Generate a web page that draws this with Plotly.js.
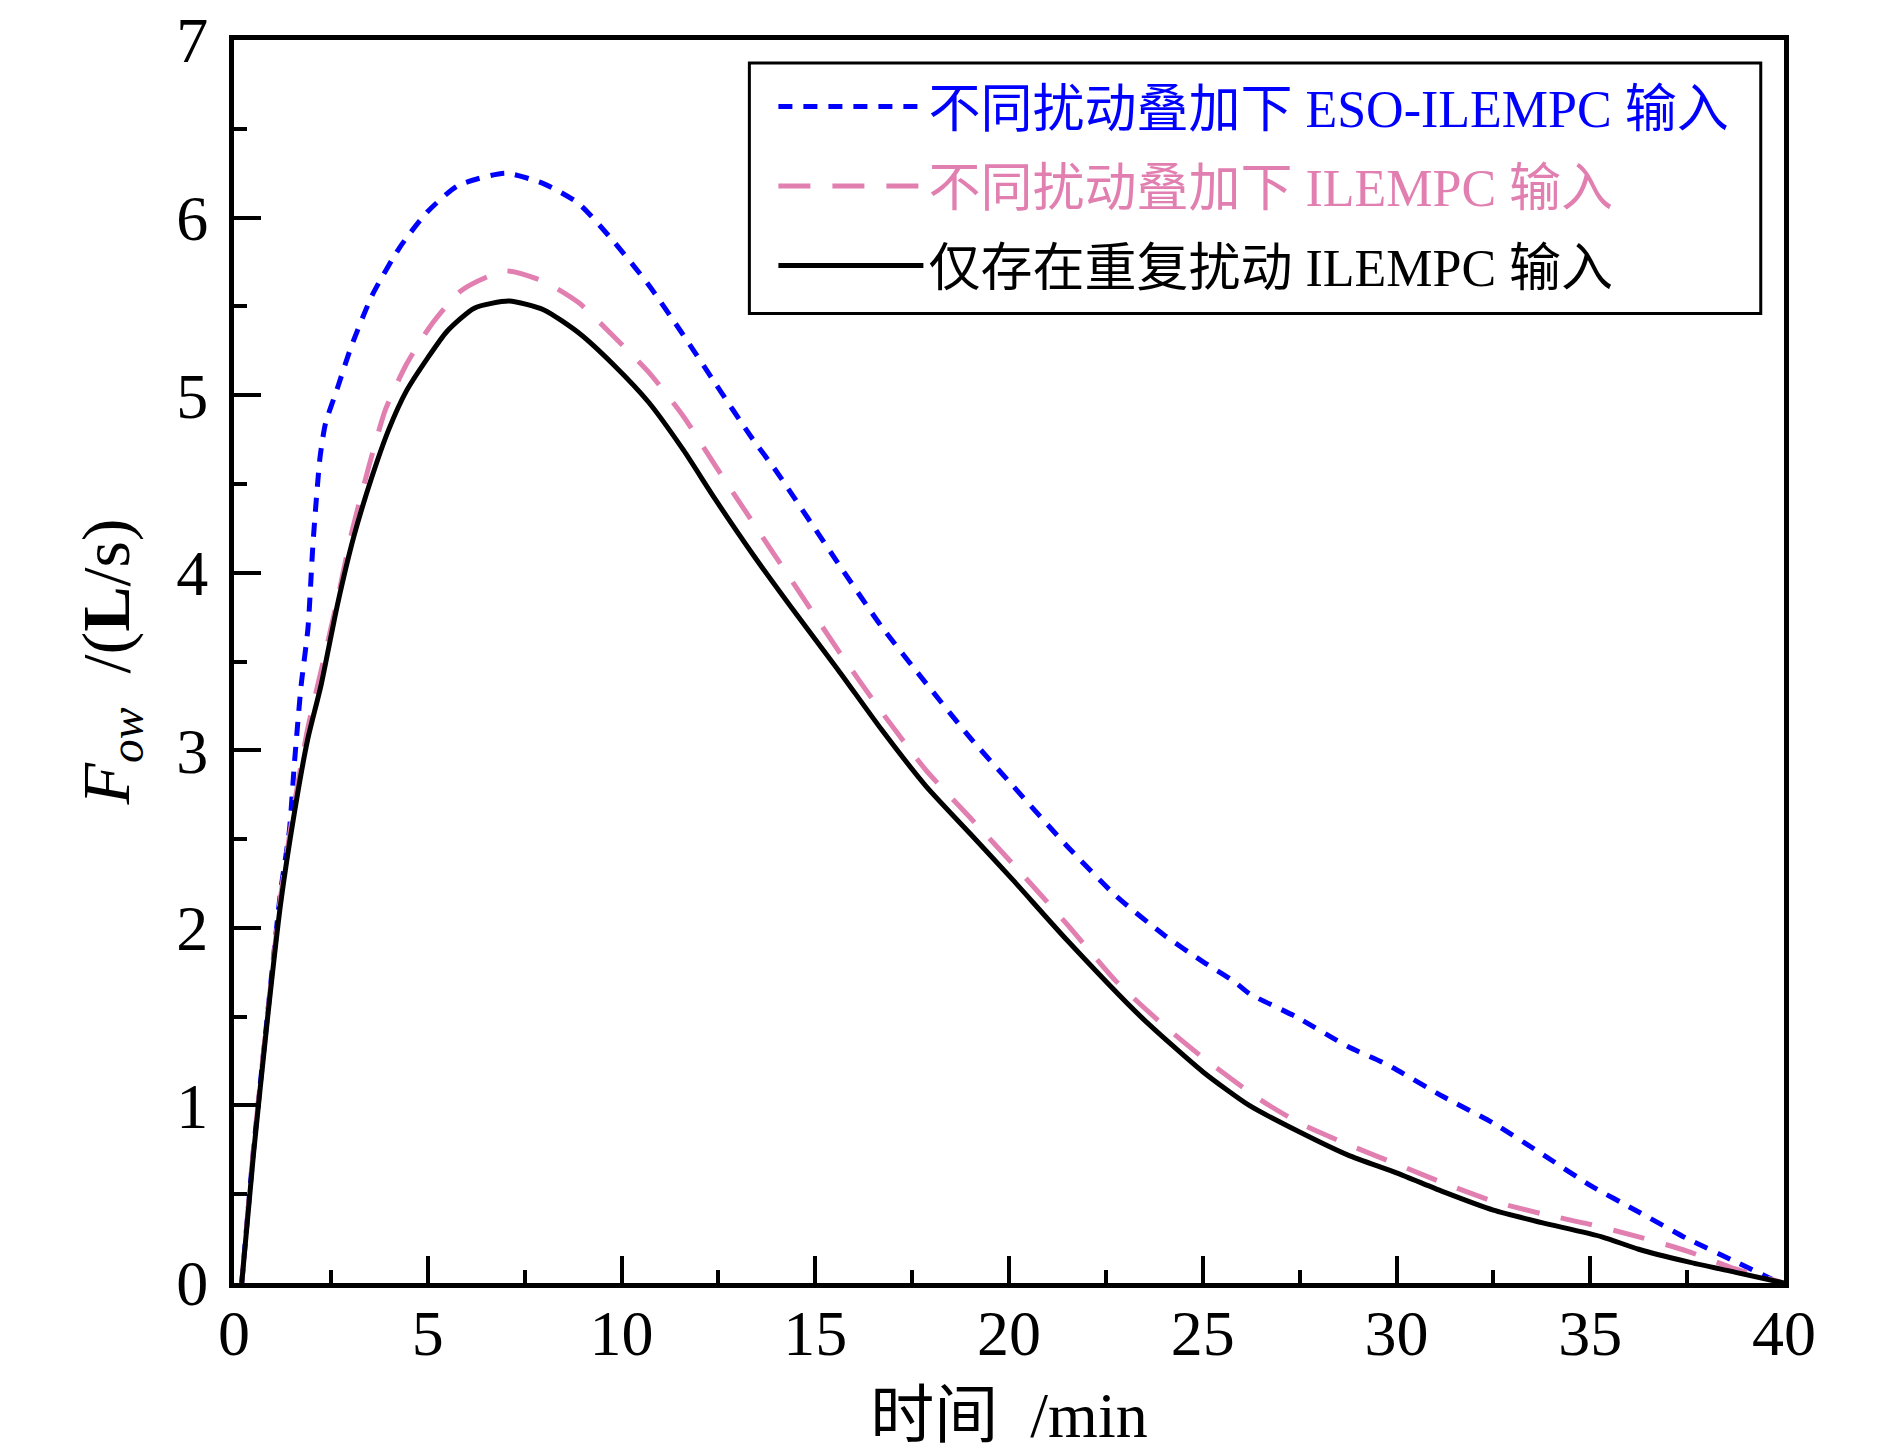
<!DOCTYPE html>
<html>
<head>
<meta charset="utf-8">
<script src="https://cdn.plot.ly/plotly-3.0.1.min.js"></script>
<style>html,body{margin:0;padding:0;background:#fff;}#chart{width:1890px;height:1452px;}</style>
</head>
<body>
<div id="chart"></div>
<script>
// ---- data ----
const seriesNames = [
  '不同扰动叠加下 ESO-ILEMPC 输入',
  '不同扰动叠加下 ILEMPC 输入',
  '仅存在重复扰动 ILEMPC 输入'
];
const seriesColors = ['#0000FF', '#E27FB1', '#000000'];

const xEso = [0.2,0.5,0.86,1.2,1.43,1.56,1.73,1.91,2.04,2.22,2.36,2.67,3.02,3.56,4.27,4.98,5.78,7.0,8.0,8.89,9.78,10.67,11.56,12.44,13.33,14.0,15.6,16.7,17.85,19.0,20.1,21.5,22.76,24.0,25.0,25.8,26.2,27.4,28.76,29.76,31.2,32.5,33.8,35.0,36.25,37.5,38.75,39.7];
const yEso = [0,0.74,1.5,2.2,2.55,2.93,3.36,3.69,4.17,4.65,4.84,5.04,5.27,5.56,5.83,6.03,6.18,6.25,6.19,6.08,5.87,5.63,5.35,5.06,4.77,4.57,4.05,3.70,3.38,3.07,2.80,2.46,2.18,1.96,1.81,1.70,1.63,1.50,1.33,1.23,1.05,0.90,0.72,0.55,0.40,0.25,0.12,0.02];

const xIlempc = [0.2,0.5,0.86,1.2,1.56,1.9,2.25,2.67,3.02,3.47,3.91,4.44,5.07,5.87,7.0,8.0,8.9,9.8,10.7,11.6,12.4,13.4,14.5,15.6,16.7,17.85,19.0,20.1,21.5,22.76,24.0,25.0,26.5,27.5,28.75,30.0,31.25,32.5,33.75,35.0,36.25,37.5,38.6,40.0];
const yIlempc = [0,0.75,1.5,2.17,2.7,3.12,3.45,3.85,4.21,4.59,4.92,5.17,5.39,5.59,5.70,5.64,5.52,5.33,5.13,4.88,4.61,4.28,3.92,3.56,3.22,2.89,2.62,2.36,2.02,1.70,1.45,1.27,1.03,0.90,0.78,0.67,0.56,0.46,0.39,0.33,0.26,0.18,0.09,0];

const xRepeat = [0.2,0.5,0.86,1.2,1.56,1.9,2.25,2.67,3.1,3.56,4.0,4.44,5.0,5.5,6.2,7.1,8.0,8.9,9.8,10.7,11.6,12.4,13.4,14.5,15.6,16.7,17.85,19.0,20.1,21.5,23.4,25.0,26.2,27.5,28.75,30.0,31.25,32.5,33.75,35.3,36.25,37.5,38.75,40.0];
const yRepeat = [0,0.72,1.48,2.13,2.65,3.06,3.37,3.82,4.21,4.54,4.81,5.02,5.21,5.36,5.49,5.53,5.48,5.35,5.17,4.96,4.69,4.42,4.10,3.77,3.45,3.12,2.80,2.53,2.27,1.93,1.50,1.19,1.00,0.85,0.72,0.62,0.51,0.41,0.34,0.26,0.19,0.12,0.06,0];

const xTicks = [0,5,10,15,20,25,30,35,40];
const yTicks = [0,1,2,3,4,5,6,7];

const serif = 'Liberation Serif, Noto Sans CJK SC, serif';

function colored(name, color) {
  return '<span style="color:' + color + '">' + name + '</span>';
}

const traces = [
  {x: xEso, y: yEso, name: colored(seriesNames[0], seriesColors[0]), legendgroup: 'a',
   mode: 'lines', line: {color: seriesColors[0], width: 5, dash: '14px,11px', shape: 'spline', smoothing: 0.6}},
  {x: xIlempc, y: yIlempc, name: colored(seriesNames[1], seriesColors[1]), legendgroup: 'b',
   mode: 'lines', line: {color: seriesColors[1], width: 5, dash: '32px,22px', shape: 'spline', smoothing: 0.6}},
  {x: xRepeat, y: yRepeat, name: colored(seriesNames[2], seriesColors[2]), legendgroup: 'c',
   mode: 'lines', line: {color: seriesColors[2], width: 5, shape: 'spline', smoothing: 0.6}}
];

const axisCommon = {
  showgrid: false, zeroline: false,
  showline: true, linecolor: '#000', linewidth: 5, mirror: true,
  ticks: 'inside', ticklen: 27, tickwidth: 4, tickcolor: '#000',
  ticklabeloverflow: 'allow',
  tickfont: {family: serif, size: 64, color: '#000'}
};

const layout = {
  width: 1890, height: 1452,
  margin: {l: 234, r: 106, t: 40, b: 169},
  paper_bgcolor: '#fff', plot_bgcolor: '#fff',
  showlegend: true,
  font: {family: serif, color: '#000'},
  xaxis: Object.assign({}, axisCommon, {
    range: [0, 40], tickvals: xTicks, ticktext: xTicks.map(String),
    ticklabelstandoff: -10,
    minor: {dtick: 2.5, tick0: 0, ticks: 'inside', ticklen: 13, tickwidth: 4, tickcolor: '#000'},
    title: {text: '时间\u00A0 /min', font: {family: serif, size: 64, color: '#000'}, standoff: 26}
  }),
  yaxis: Object.assign({}, axisCommon, {
    range: [0, 7.0001], tickvals: yTicks, ticktext: yTicks.map(String),
    ticklabelstandoff: 8,
    minor: {dtick: 0.5, tick0: 0, ticks: 'inside', ticklen: 13, tickwidth: 4, tickcolor: '#000'},
    title: {text: '<i>F</i><sub><i>ow</i></sub>\u00A0 /(<b>L</b>/s)', font: {family: serif, size: 68, color: '#000'}, standoff: 26}
  }),
  legend: {
    x: 0.348, y: 0.979, xanchor: 'left', yanchor: 'top',
    bgcolor: 'rgba(0,0,0,0)', borderwidth: 0,
    font: {family: serif, size: 52, color: '#000'},
    itemwidth: 145, tracegroupgap: 9
  },
  shapes: [
    {type: 'rect', xref: 'paper', yref: 'paper', x0: 0.3325, x1: 0.985, y0: 0.780, y1: 0.9815,
     line: {color: '#000', width: 3}, fillcolor: '#fff', layer: 'below'}
  ]
};

Plotly.newPlot('chart', traces, layout, {displayModeBar: false, staticPlot: true});
</script>
</body>
</html>
